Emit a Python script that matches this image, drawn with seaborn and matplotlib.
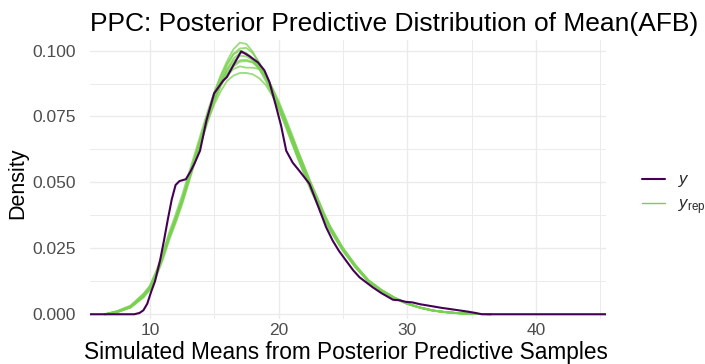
import matplotlib
matplotlib.use("Agg")
import matplotlib.pyplot as plt
from matplotlib.lines import Line2D
import seaborn as sns
import pandas as pd

# ---------------- data ----------------
# observed y density
y_x = [5.35, 8.8, 9.2, 9.5, 9.8, 10.1, 10.4, 10.8, 11.1, 11.4, 11.7, 12.0, 12.3, 12.8,
       13.2, 13.5, 13.9, 14.4, 15.0, 15.7, 16.0, 16.5, 17.1, 17.7, 18.4, 18.9, 19.3,
       19.8, 20.2, 20.6, 21.1, 21.6, 22.0, 22.4, 22.8, 23.2, 23.7, 24.2, 24.7, 25.3,
       25.8, 26.3, 27.3, 28.0, 28.9, 29.4, 29.9, 30.4, 31.0, 31.5, 32.1, 32.7, 33.3,
       34.0, 34.7, 35.3, 35.8, 45.45]
y_dens = [0, 0, 0.0005, 0.0015, 0.004, 0.0085, 0.0125, 0.0205, 0.028, 0.036, 0.0435,
          0.049, 0.0505, 0.0512, 0.0545, 0.0575, 0.062, 0.0735, 0.0838, 0.0886, 0.090,
          0.0945, 0.0997, 0.098, 0.0955, 0.0925, 0.088, 0.079, 0.0715, 0.062, 0.0575,
          0.0545, 0.052, 0.0495, 0.0445, 0.0394, 0.033, 0.028, 0.024, 0.020, 0.0167,
          0.014, 0.0103, 0.008, 0.0055, 0.0053, 0.0047, 0.0045, 0.0038, 0.0034, 0.0029,
          0.0024, 0.0020, 0.0015, 0.0010, 0.0005, 0.0, 0.0]

# replicated (yrep) densities on a common grid
rep_x = [6.5, 7.5, 8.5, 9.5, 10, 10.5, 11, 11.5, 12, 12.5, 13, 13.5, 14, 14.5, 15, 15.5,
         16, 16.5, 17, 17.5, 18, 18.5, 19, 19.5, 20, 20.5, 21, 21.5, 22, 22.5, 23, 23.5,
         24, 25, 26, 27, 28, 29, 30, 31, 32, 33, 34, 35, 36.5]
yrep_1 = [0, .001, .0028, .007, .010, .0155, .022, .0295, .036, .043, .051, .059, .067,
          .075, .082, .088, .093, .097, .099, .099, .097, .094, .090, .085, .0795, .0735,
          .067, .0605, .0545, .0485, .043, .0375, .0325, .0245, .018, .0125, .009, .0062,
          .004, .0025, .0014, .0008, .0004, .0002, 0]
yrep_2 = [0, .0012, .0031, .0075, .0105, .016, .0225, .030, .0365, .0435, .0515, .0595,
          .068, .0765, .084, .0905, .096, .1005, .103, .1025, .0995, .095, .0895, .084,
          .078, .072, .0655, .059, .053, .047, .0418, .0365, .0318, .024, .0175, .0122,
          .0088, .006, .0039, .0024, .0013, .0007, .0003, .0001, 0]
yrep_3 = [0, .0009, .0026, .0066, .0096, .015, .0215, .029, .0355, .0425, .0505, .058,
          .0655, .073, .0795, .0845, .0885, .0905, .0915, .0915, .091, .0895, .087, .083,
          .0785, .0735, .068, .062, .056, .050, .0445, .0388, .0336, .0253, .0186, .0129,
          .0093, .0064, .0042, .0026, .0015, .0008, .0004, .0002, 0]
yrep_4 = [0, .0008, .0025, .0063, .0092, .0142, .0205, .028, .0345, .0415, .0495, .0575,
          .0655, .0735, .0805, .0865, .091, .094, .0958, .096, .0955, .0935, .0905, .086,
          .081, .075, .0688, .0622, .056, .050, .0444, .0385, .0333, .025, .0184, .0128,
          .0092, .0063, .0041, .0026, .0014, .0008, .0004, .0002, 0]
yrep_5 = [0, .0013, .0033, .0078, .0108, .0165, .0232, .031, .0378, .045, .053, .061,
          .069, .077, .084, .090, .095, .0985, .100, .099, .0965, .093, .0885, .0835,
          .078, .072, .0655, .0593, .0535, .0478, .0424, .037, .032, .0242, .0178, .0124,
          .0089, .0061, .004, .0025, .0014, .0008, .0004, .0002, 0]
yrep_6 = [0, .001, .0028, .0069, .0099, .0153, .0218, .0293, .0358, .0428, .0508, .0588,
          .0668, .0748, .0818, .0878, .0925, .096, .098, .0978, .0962, .0935, .0898, .085,
          .0795, .0737, .0672, .0608, .0548, .0488, .0433, .0378, .0328, .0247, .0181,
          .0126, .009, .0062, .004, .0025, .0014, .0008, .0004, .0002, 0]
yrep_7 = [0, .0011, .0029, .0071, .0102, .0157, .0222, .0298, .0364, .0434, .0514, .0594,
          .0672, .0748, .0815, .0868, .0905, .093, .094, .0935, .0935, .093, .0905, .086,
          .080, .074, .0675, .061, .0548, .049, .0435, .038, .033, .0248, .0182, .0127,
          .0091, .0062, .004, .0025, .0014, .0008, .0004, .0002, 0]
yrep_8 = [0, .0009, .0027, .0067, .0097, .015, .0215, .029, .0355, .0425, .0505, .0585,
          .0665, .0745, .082, .0885, .0945, .0988, .1008, .101, .099, .0955, .091, .0855,
          .0795, .0733, .0665, .0598, .0538, .0478, .0424, .037, .0322, .0243, .0179,
          .0125, .009, .0062, .004, .0025, .0014, .0008, .0004, .0002, 0]
yrep_9 = [0, .001, .0027, .0068, .0098, .0152, .0217, .0292, .0357, .0427, .0507, .0585,
          .0663, .074, .081, .0868, .0915, .0948, .0963, .0965, .0955, .093, .0895, .085,
          .0798, .074, .0676, .0612, .0551, .0491, .0436, .038, .033, .0248, .0182, .0127,
          .0091, .0062, .004, .0025, .0014, .0008, .0004, .0002, 0]
yrep_all = [yrep_1, yrep_2, yrep_3, yrep_4, yrep_5, yrep_6, yrep_7, yrep_8, yrep_9]

x_ticks = [10, 20, 30, 40]
y_ticks = [0.000, 0.025, 0.050, 0.075, 0.100]
y_tick_labels = ["0.000", "0.025", "0.050", "0.075", "0.100"]

title = "PPC: Posterior Predictive Distribution of Mean(AFB)"
x_label = "Simulated Means from Posterior Predictive Samples"
y_label = "Density"

# ---------------- build tables ----------------
rows = []
for i, cur in enumerate(yrep_all):
    if len(cur) != len(rep_x):
        raise ValueError(f"yrep_{i+1} has {len(cur)} points")
    for xv, dv in zip(rep_x, cur):
        rows.append({"x": xv, "density": dv, "draw": i})
df_rep = pd.DataFrame(rows)
df_y = pd.DataFrame({"x": y_x, "density": y_dens})

# ---------------- style ----------------
sns.set_theme(style="white")
plt.rcParams["font.family"] = ["Liberation Sans", "DejaVu Sans"]
plt.rcParams["mathtext.fontset"] = "custom"
plt.rcParams["mathtext.rm"] = "Liberation Sans"
plt.rcParams["mathtext.it"] = "Liberation Sans:italic"

DARK = "#440154"
LIGHT = "#7AD151"
GRID = "#EBEBEB"

W, H = 705, 364
L, R, T, B = 90, 606, 40, 319
fig = plt.figure(figsize=(W / 100, H / 100), dpi=100)
ax = fig.add_axes([L / W, 1 - B / H, (R - L) / W, (B - T) / H])

sns.lineplot(data=df_rep, x="x", y="density", units="draw", estimator=None,
             color=LIGHT, linewidth=1.3, alpha=0.75, sort=False, ax=ax, legend=False)
sns.lineplot(data=df_y, x="x", y="density", color=DARK, linewidth=1.5,
             sort=False, ax=ax, legend=False, estimator=None)

ax.set_xlim(5.35, 45.45)
ax.set_ylim(-0.0018, 0.1040)
ax.set_xticks(x_ticks)
ax.set_xticks([15, 25, 35, 45], minor=True)
ax.set_yticks(y_ticks)
ax.set_yticklabels(y_tick_labels)
ax.set_yticks([0.0125, 0.0375, 0.0625, 0.0875], minor=True)
ax.grid(True, which="major", color=GRID, linewidth=1.0)
ax.grid(True, which="minor", color=GRID, linewidth=0.7)
ax.set_axisbelow(True)
for s in ax.spines.values():
    s.set_visible(False)
ax.tick_params(axis="both", which="both", length=0, labelsize=12.5,
               labelcolor="#4D4D4D")
ax.tick_params(axis="y", pad=10)
ax.tick_params(axis="x", pad=3)

ax.set_xlabel(x_label, fontsize=16.3, color="black", va="center", ha="center")
ax.xaxis.set_label_coords((346 - L) / (R - L), (B - 352.5) / (B - T))
ax.set_ylabel(y_label, fontsize=15.5, color="black", va="center", ha="center")
ax.yaxis.set_label_coords((18 - L) / (R - L), (B - 183) / (B - T))
ax.set_title(title, fontsize=19, color="black", loc="left",
             y=(B - 31) / (B - T), va="baseline", pad=0)

handles = [Line2D([0], [0], color=DARK, linewidth=1.5),
           Line2D([0], [0], color=LIGHT, linewidth=1.0)]
fig.legend(handles, [r"$y$", r"$y_{\mathrm{rep}}$"], loc="center left",
           bbox_to_anchor=(642 / W, 1 - 194.5 / H), frameon=False, fontsize=12,
           handlelength=1.4, handletextpad=0.75, labelspacing=0.45,
           borderpad=0, borderaxespad=0)

fig.savefig("out.png", dpi=100)
